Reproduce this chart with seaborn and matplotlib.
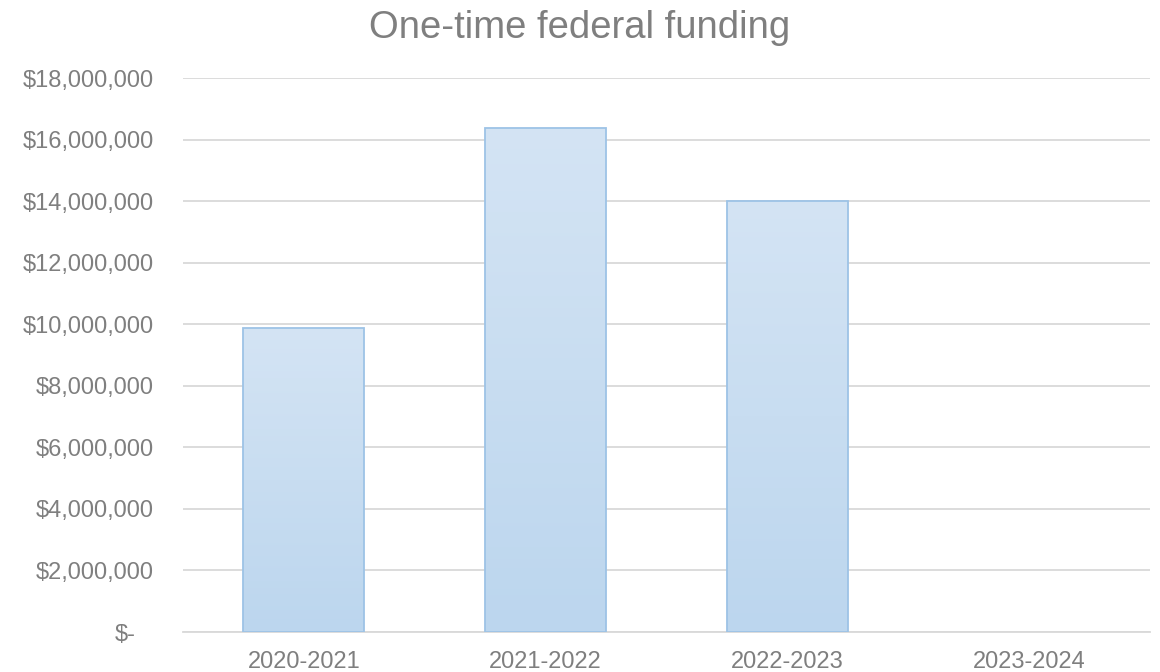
#! /usr/bin/env python3
# -*- coding: utf-8 -*-

import numpy as np
import pandas as pd
import matplotlib
matplotlib.use('Agg')
import matplotlib.pyplot as plt
import matplotlib.transforms as mtransforms
import matplotlib.colors as mcolors
import seaborn as sns

###DATA###
years = ['2020-2021', '2021-2022', '2022-2023', '2023-2024']
funding = [9880000, 16390000, 14010000, 0]
yticks = [0, 2000000, 4000000, 6000000, 8000000, 10000000, 12000000, 14000000, 16000000, 18000000]

df = pd.DataFrame({'year': years, 'funding': funding})

sns.set_style('white')
plt.rcParams['font.family'] = ['Liberation Sans', 'DejaVu Sans']
text_col = '#7f7f7f'

fig = plt.figure(figsize=(11.6, 6.72), dpi=100)
ax = fig.add_axes([0.1578, 0.0595, 0.8336, 0.8244])

sns.barplot(x='year', y='funding', data=df, ax=ax, width=0.5,
            color='#c5dbf0', edgecolor='#9dc3e6', linewidth=1.3, zorder=3)

#Gradient fill clipped to each bar
cmap = mcolors.LinearSegmentedColormap.from_list('grad', ['#bcd6ee', '#d4e4f4'])
grad = np.linspace(0, 1, 256).reshape(-1, 1)
for p in ax.patches:
	x0, y0 = p.get_x(), p.get_y()
	w, h = p.get_width(), p.get_height()
	if h <= 0:
		p.set_linewidth(0)
		continue
	im = ax.imshow(grad, cmap=cmap, aspect='auto', origin='lower',
	               extent=[x0, x0 + w, y0, y0 + h], zorder=3.5)
	im.set_clip_path(p)
	p.set_facecolor('none')
	p.set_zorder(4)

ax.set_xlim(-0.5, len(years) - 0.5)
ax.set_ylim(0, 18000000)
ax.set_yticks(yticks)
labels = ['$-' if v == 0 else '${:,.0f}'.format(v) for v in yticks]
ax.set_yticklabels(labels)
ax.grid(axis='y', color='#d9d9d9', linewidth=1.3, zorder=0)
ax.set_axisbelow(True)
for s in ['top', 'right', 'left']:
	ax.spines[s].set_visible(False)
ax.spines['bottom'].set_color('#d9d9d9')
ax.spines['bottom'].set_linewidth(1.3)
ax.tick_params(axis='both', length=0, labelsize=17, colors=text_col)
ax.tick_params(axis='y', pad=21)
ax.tick_params(axis='x', pad=14)
ax.set_xlabel('')
ax.set_ylabel('')

#Shift the "$-" label left like Excel accounting format
lab0 = ax.get_yticklabels()[0]
lab0.set_transform(lab0.get_transform() + mtransforms.ScaledTranslation(-18 / 100, 0, fig.dpi_scale_trans))

fig.text(0.5, 0.958, 'One-time federal funding', ha='center', va='center',
         fontsize=27.5, color=text_col)

fig.savefig('out.png', dpi=100, facecolor='white')
plt.close()
